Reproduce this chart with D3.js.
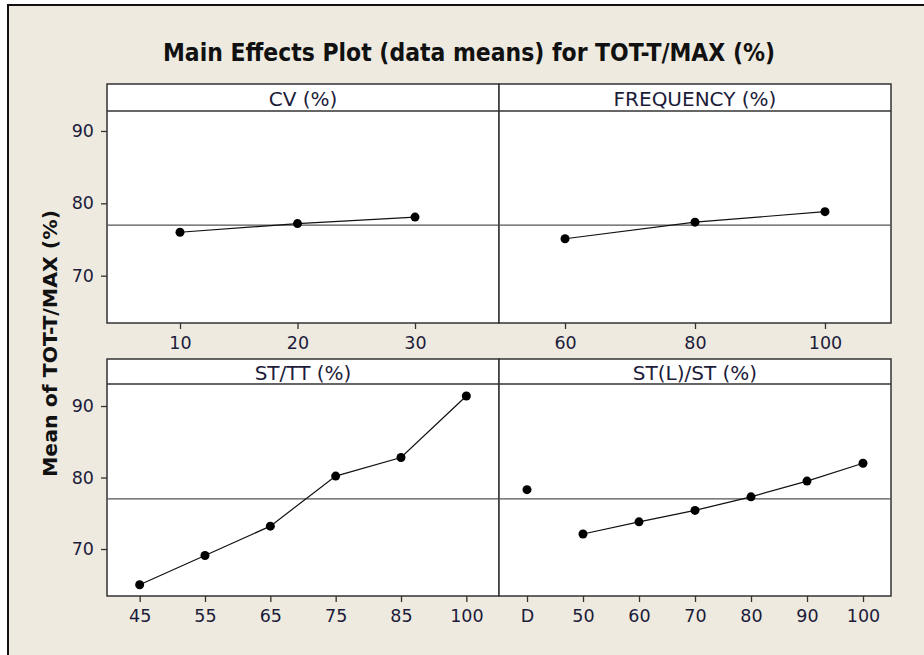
<!DOCTYPE html>
<html>
<head>
<meta charset="utf-8">
<script src="https://cdn.jsdelivr.net/npm/d3@7"></script>
<style>
  body { margin: 0; background: #fff; }
  svg { display: block; }
  .tick text { font-family: "DejaVu Sans", sans-serif; fill: #1c1c3a; }
</style>
</head>
<body>
<div id="chart"></div>
<script>
// level labels and means
const cvLevels = ["10", "20", "30"];
const cvMeans = [76.0, 77.2, 78.1];
const freqLevels = ["60", "80", "100"];
const freqMeans = [75.1, 77.4, 78.85];
const sttLevels = ["45", "55", "65", "75", "85", "100"];
const sttMeans = [65.0, 69.1, 73.2, 80.2, 82.8, 91.4];
const stlLevels = ["D", "50", "60", "70", "80", "90", "100"];
const stlMeans = [78.3, 72.1, 73.8, 75.4, 77.3, 79.5, 82.0];
const grandMean = 77.0;
const yTicks = [70, 80, 90];

const width = 924, height = 655;

const svg = d3.select("#chart").append("svg")
    .attr("width", width)
    .attr("height", height);

// beige frame, only left and top edges show
svg.append("rect")
    .attr("x", 8).attr("y", 5)
    .attr("width", width).attr("height", height)
    .attr("fill", "#eeeae0")
    .attr("stroke", "#111")
    .attr("stroke-width", 2);

svg.append("text")
    .attr("x", 163).attr("y", 61)
    .attr("textLength", 612)
    .attr("lengthAdjust", "spacingAndGlyphs")
    .attr("font-family", "DejaVu Sans")
    .attr("font-weight", "bold")
    .attr("font-size", 25)
    .attr("fill", "#111")
    .text("Main Effects Plot (data means) for TOT-T/MAX (%)");

svg.append("text")
    .attr("transform", "translate(57,477) rotate(-90)")
    .attr("textLength", 267)
    .attr("lengthAdjust", "spacingAndGlyphs")
    .attr("font-family", "DejaVu Sans")
    .attr("font-weight", "bold")
    .attr("font-size", 20)
    .attr("fill", "#111")
    .text("Mean of TOT-T/MAX (%)");

const panels = [
    { title: "CV (%)", levels: cvLevels, means: cvMeans, x0: 107, x1: 499, top: 84, head: 111, bottom: 323, yDom: [63.46, 92.76], pad: 0.668, align: 0.465, yAxis: true },
    { title: "FREQUENCY (%)", levels: freqLevels, means: freqMeans, x0: 499, x1: 891, top: 84, head: 111, bottom: 323, yDom: [63.46, 92.76], pad: 0.508, align: 0.5, yAxis: false },
    { title: "ST/TT (%)", levels: sttLevels, means: sttMeans, x0: 107, x1: 499, top: 359, head: 384, bottom: 596, yDom: [63.43, 93.08], pad: 0.5, align: 0.5, yAxis: true },
    { title: "ST(L)/ST (%)", levels: stlLevels, means: stlMeans, x0: 499, x1: 891, top: 359, head: 384, bottom: 596, yDom: [63.43, 93.08], pad: 0.5, align: 0.5, yAxis: false }
];

panels.forEach(p => {
    const g = svg.append("g");

    const x = d3.scalePoint()
        .domain(p.levels)
        .range([p.x0, p.x1])
        .padding(p.pad)
        .align(p.align);

    const y = d3.scaleLinear()
        .domain(p.yDom)
        .range([p.bottom, p.head]);

    // header strip + plot area
    g.append("rect")
        .attr("x", p.x0).attr("y", p.top)
        .attr("width", p.x1 - p.x0).attr("height", p.bottom - p.top)
        .attr("fill", "#fff")
        .attr("stroke", "#333")
        .attr("stroke-width", 1.5);
    g.append("line")
        .attr("x1", p.x0).attr("x2", p.x1)
        .attr("y1", p.head).attr("y2", p.head)
        .attr("stroke", "#333")
        .attr("stroke-width", 1.5);
    g.append("text")
        .attr("x", (p.x0 + p.x1) / 2)
        .attr("y", (p.top + p.head) / 2 + 1)
        .attr("text-anchor", "middle")
        .attr("dominant-baseline", "central")
        .attr("font-family", "DejaVu Sans")
        .attr("font-size", 20)
        .attr("fill", "#1c1c3a")
        .text(p.title);

    // grand mean reference
    g.append("line")
        .attr("x1", p.x0).attr("x2", p.x1)
        .attr("y1", y(grandMean)).attr("y2", y(grandMean))
        .attr("stroke", "#555")
        .attr("stroke-width", 1.2);

    const data = p.levels.map((l, i) => ({ level: l, mean: p.means[i] }));

    const line = d3.line()
        .defined(d => d.level !== "D")
        .x(d => x(d.level))
        .y(d => y(d.mean));

    g.append("path")
        .datum(data)
        .attr("d", line)
        .attr("fill", "none")
        .attr("stroke", "#111")
        .attr("stroke-width", 1.2);

    g.selectAll("circle")
        .data(data)
        .join("circle")
        .attr("cx", d => x(d.level))
        .attr("cy", d => y(d.mean))
        .attr("r", 4.5)
        .attr("fill", "#000");

    const xa = g.append("g")
        .attr("transform", `translate(0,${p.bottom})`)
        .call(d3.axisBottom(x).tickSize(6).tickPadding(8));
    xa.select(".domain").remove();
    xa.selectAll(".tick line").attr("stroke", "#333").attr("stroke-width", 1.3);
    xa.selectAll(".tick text").attr("font-size", 17.5);

    if (p.yAxis) {
        const ya = g.append("g")
            .attr("transform", `translate(${p.x0},0)`)
            .call(d3.axisLeft(y).tickValues(yTicks).tickSize(6).tickPadding(7));
        ya.select(".domain").remove();
        ya.selectAll(".tick line").attr("stroke", "#333").attr("stroke-width", 1.3);
        ya.selectAll(".tick text").attr("font-size", 17.5);
    }
});
</script>
</body>
</html>
